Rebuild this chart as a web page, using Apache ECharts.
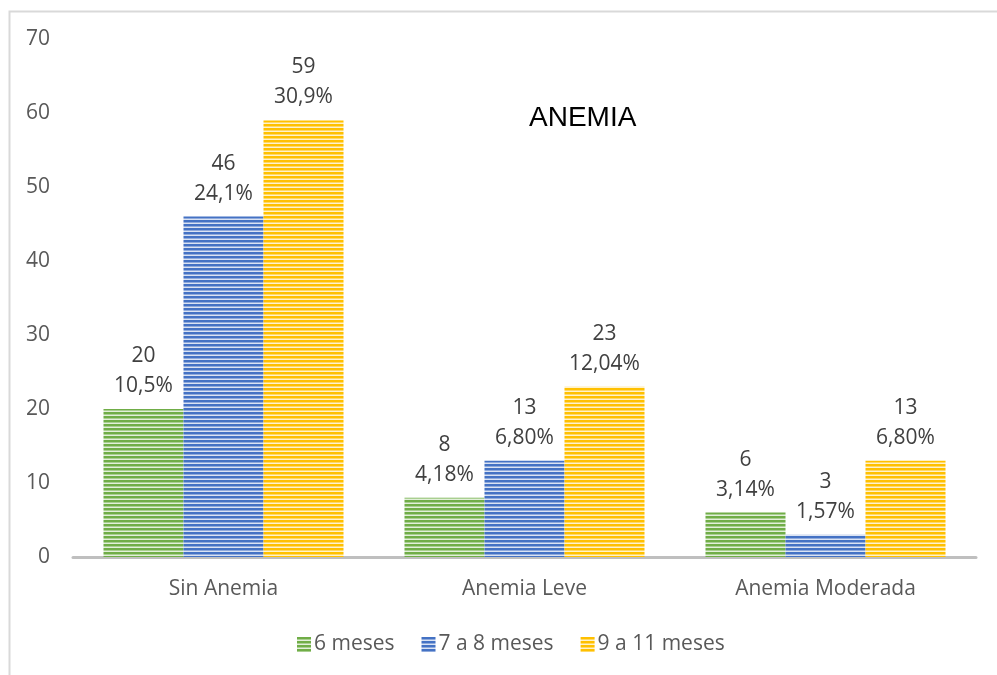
<!DOCTYPE html>
<html><head><meta charset="utf-8">
<script src="https://cdn.jsdelivr.net/npm/echarts@6/dist/echarts.min.js"></script>
<style>html,body{margin:0;padding:0;background:#fff}#c{width:997px;height:675px}</style>
</head><body><div id="c"></div>
<script>
var categories = ['Sin Anemia', 'Anemia Leve', 'Anemia Moderada'];
var seriesNames = ['6 meses', '7 a 8 meses', '9 a 11 meses'];
var values6 = [20, 8, 6];
var values7 = [46, 13, 3];
var values9 = [59, 23, 13];
var pct6 = ['10,5%', '4,18%', '3,14%'];
var pct7 = ['24,1%', '6,80%', '1,57%'];
var pct9 = ['30,9%', '12,04%', '6,80%'];
var yTicks = [0, 10, 20, 30, 40, 50, 60, 70];

function stripe(dark, mid, light) {
  var c = document.createElement('canvas');
  c.width = 4; c.height = 4;
  var x = c.getContext('2d');
  x.fillStyle = dark; x.fillRect(0, 0, 4, 2);
  x.fillStyle = mid; x.fillRect(0, 2, 4, 1);
  x.fillStyle = light; x.fillRect(0, 3, 4, 1);
  return { image: c, repeat: 'repeat' };
}
var fills = [
  stripe('#70AD47', '#A9CF90', '#E2EFDA'),
  stripe('#4472C4', '#8FAADC', '#DAE3F3'),
  stripe('#FFC000', '#FFD966', '#FFF2CC')
];
var vals = [values6, values7, values9];
var pcts = [pct6, pct7, pct9];
var font = '"Open Sans", "DejaVu Sans", sans-serif';

var series = seriesNames.map(function (n, i) {
  return {
    name: n, type: 'bar', barWidth: 80, barGap: '0%',
    data: vals[i],
    itemStyle: { color: fills[i] },
    label: {
      show: true, position: 'top', distance: 8,
      color: '#404040', fontSize: 21, fontFamily: font, lineHeight: 30,
      formatter: function (p) { return p.value + '\n' + pcts[i][p.dataIndex]; }
    }
  };
});

var chart = echarts.init(document.getElementById('c'), null, { renderer: 'canvas' });
chart.setOption({
  animation: false,
  backgroundColor: '#fff',
  title: {
    text: 'ANEMIA', left: 524, top: 99,
    textStyle: { fontSize: 28, fontWeight: 'normal', color: '#000', fontFamily: '"Liberation Sans", Arial, sans-serif' }
  },
  legend: {
    data: seriesNames.map(function (n, i) { return { name: n, itemStyle: { color: fills[i] } }; }),
    left: 292, top: 629, itemWidth: 14, itemHeight: 15, itemGap: 27,
    icon: 'rect',
    textStyle: { fontSize: 21, color: '#595959', fontFamily: font, padding: [0, 0, 0, -2] }
  },
  grid: { left: 73, right: 21, top: 39, bottom: 118 },
  xAxis: {
    type: 'category', data: categories,
    axisLine: { lineStyle: { color: '#BFBFBF', width: 3 } },
    axisTick: { show: false },
    axisLabel: { fontSize: 21, color: '#595959', fontFamily: font, margin: 22 }
  },
  yAxis: {
    type: 'value', min: 0, max: 70, interval: 10,
    splitLine: { show: false },
    axisLine: { show: false }, axisTick: { show: false },
    axisLabel: { fontSize: 21, color: '#595959', fontFamily: font, margin: 23,
      formatter: function (v) { return yTicks.indexOf(v) >= 0 ? String(v) : ''; } }
  },
  graphic: [{
    type: 'rect', silent: true, z: -1,
    shape: { x: 9.5, y: 11.5, width: 1100, height: 800 },
    style: { fill: 'none', stroke: '#D9D9D9', lineWidth: 2 }
  }],
  series: series
});
</script></body></html>
